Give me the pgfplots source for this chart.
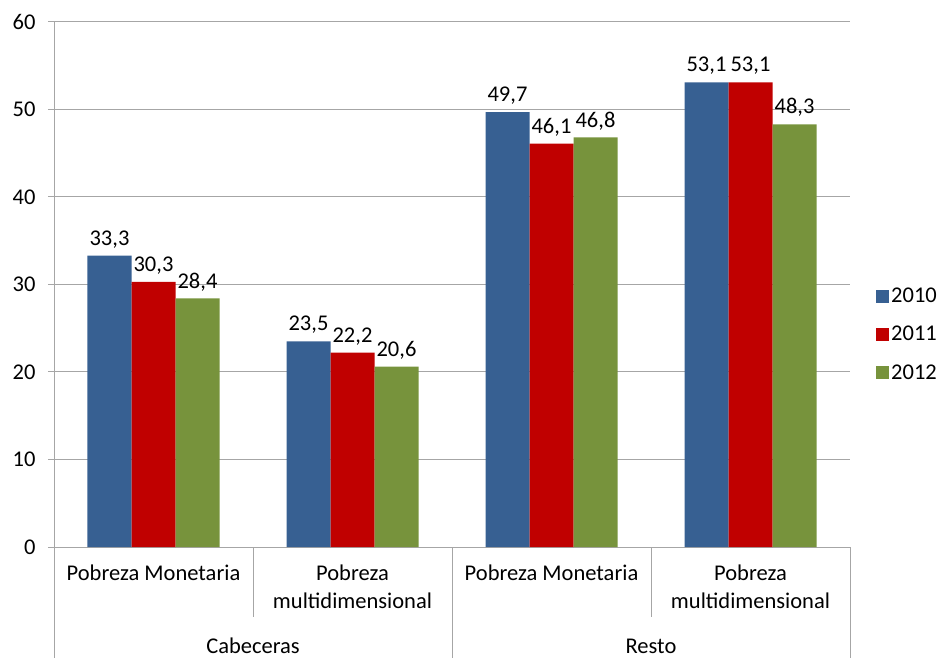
\documentclass[border=0pt]{standalone}
\usepackage{fontspec}
\setmainfont{Carlito}
\usepackage{pgfplots}
\pgfplotsset{compat=1.18}
\definecolor{c2010}{RGB}{55,96,146}
\definecolor{c2011}{RGB}{192,0,0}
\definecolor{c2012}{RGB}{119,147,60}
\definecolor{gridc}{RGB}{166,166,166}
\newcommand{\lbl}{\fontsize{22.5bp}{28bp}\selectfont}
\begin{document}
\begin{tikzpicture}
\path[use as bounding box] (0bp,0bp) rectangle (942bp,658bp);
\begin{axis}[
    at={(54bp,111bp)}, anchor=south west,
    scale only axis, width=796bp, height=525bp,
    ybar=0pt, bar width=44bp,
    xmin=-0.5, xmax=3.5, ymin=0, ymax=60,
    ytick={0,10,...,60},
    xtick={0,1,2,3},
    xticklabels={Pobreza Monetaria, Pobreza\\multidimensional, Pobreza Monetaria, Pobreza\\multidimensional},
    xticklabel style={align=center, anchor=north, yshift=-8bp},
    yticklabel style={xshift=-9bp},
    tick label style={font=\lbl},
    /pgf/number format/assume math mode=true,
    major x tick style={draw=none},
    y tick style={gridc, line width=1bp},
    tick align=outside, major tick length=6bp,
    ymajorgrids, grid style={gridc, line width=1bp},
    axis x line*=bottom, axis y line*=left,
    axis line style={gridc, line width=1bp},
    clip=false,
    nodes near coords={\pgfmathprintnumber[fixed,fixed zerofill,precision=1,use comma]{\pgfplotspointmeta}},
    every node near coord/.append style={font=\lbl, black, yshift=4bp},
    legend style={draw=none, at={(1,0.405)}, anchor=west, xshift=23bp, font=\lbl, row sep=18bp},
    legend cell align=left,
    legend image code/.code={\fill[#1, draw=none] (0bp,-6.5bp) rectangle (13bp,6.5bp);},
]
\addplot[fill=c2010, draw=none] coordinates {(0,33.3) (1,23.5) (2,49.7) (3,53.1)};
\addplot[fill=c2011, draw=none] coordinates {(0,30.3) (1,22.2) (2,46.1) (3,53.1)};
\addplot[fill=c2012, draw=none] coordinates {(0,28.4) (1,20.6) (2,46.8) (3,48.3)};
\legend{2010,2011,2012}
\draw[gridc, line width=1bp] (axis cs:-0.5,0) -- ++(0bp,-111bp);
\draw[gridc, line width=1bp] (axis cs:1.5,0) -- ++(0bp,-111bp);
\draw[gridc, line width=1bp] (axis cs:3.5,0) -- ++(0bp,-111bp);
\draw[gridc, line width=1bp] (axis cs:0.5,0) -- ++(0bp,-70bp);
\draw[gridc, line width=1bp] (axis cs:2.5,0) -- ++(0bp,-70bp);
\node[font=\lbl, anchor=base] at ([yshift=-106bp]axis cs:0.5,0) {Cabeceras};
\node[font=\lbl, anchor=base] at ([yshift=-106bp]axis cs:2.5,0) {Resto};
\end{axis}
\end{tikzpicture}
\end{document}
